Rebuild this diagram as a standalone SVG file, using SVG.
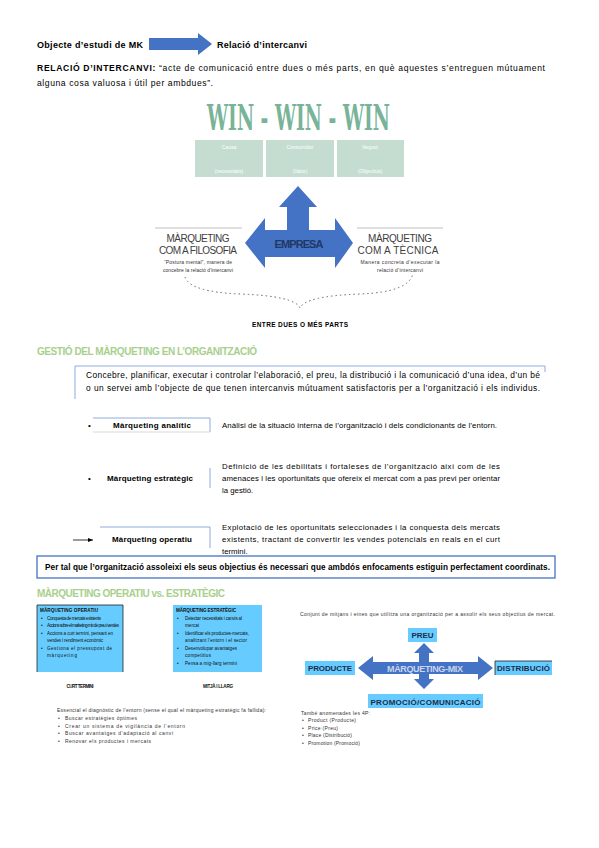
<svg xmlns="http://www.w3.org/2000/svg" width="599" height="848" viewBox="0 0 599 848">
<style>
  .t{font-family:"Liberation Sans",Arial,sans-serif;fill:#000}
  .b{font-weight:bold}
  .h{font-family:"Liberation Sans",Arial,sans-serif;font-weight:bold;fill:#a8d08d;font-size:10px}
  .blue{fill:#4472c4}
  .win{font-family:"DejaVu Serif",serif;font-weight:bold;fill:#79b398;font-size:36px}
  .wbox{fill:#c5ddd1}
  .wt{font-family:"Liberation Sans",Arial,sans-serif;fill:#fff;font-size:5px}
  .mk{font-family:"Liberation Sans",Arial,sans-serif;fill:#404040;font-size:10px}
  .sm{font-family:"Liberation Sans",Arial,sans-serif;fill:#333;font-size:5px}
  .cy{fill:#66ccff}
  .mx{font-family:"Liberation Sans",Arial,sans-serif;font-weight:bold;fill:#1f2d4d;font-size:8px}
  .bx{font-family:"Liberation Sans",Arial,sans-serif;fill:#111;font-size:4.6px}
  .ln{stroke:#8eaadb;stroke-width:1;fill:none}
</style>
<defs>
  <marker id="ah" markerWidth="6" markerHeight="6" refX="5" refY="3" orient="auto" markerUnits="userSpaceOnUse">
    <path d="M0,1 L5,3 L0,5 z" fill="#000"/>
  </marker>
</defs>
<rect width="599" height="848" fill="#fff"/>

<g id="header">
  <text class="t b" x="37" y="48" font-size="9" textLength="106">Objecte d’estudi de MK</text>
  <text class="t b" x="217" y="48" font-size="9" textLength="90">Relació d’intercanvi</text>
  <text class="t" x="37" y="71" font-size="8.6" textLength="508"><tspan class="b">RELACIÓ D’INTERCANVI:</tspan> “acte de comunicació entre dues o més parts, en què aquestes s’entreguen mútuament</text>
  <text class="t" x="37" y="86" font-size="8.6" textLength="176">alguna cosa valuosa i útil per ambdues”.</text>
</g>

<g id="connectors">
  <polygon id="arrow-top" class="blue" points="149,38 198,38 198,33 212,44 198,55 198,50 149,50"/>
  <line x1="73" y1="540" x2="93" y2="540" stroke="#000" stroke-width="0.8" marker-end="url(#ah)"/>
  <path id="brace" d="M185,277 Q190,292 240,294 Q295,296 300,308 Q305,296 360,294 Q410,292 413,273" fill="none" stroke="#666" stroke-width="1" stroke-dasharray="1.5 3"/>
</g>

<g id="win">
  <text class="win" x="207" y="130" textLength="183" lengthAdjust="spacingAndGlyphs">WIN - WIN - WIN</text>
</g>
<g id="box-causa">
  <rect class="wbox" x="195" y="140" width="68" height="37"/>
  <text class="wt" x="229" y="149" text-anchor="middle">Causa</text>
  <text class="wt" x="229" y="173" text-anchor="middle">(necessitats)</text>
</g>
<g id="box-consumidor">
  <rect class="wbox" x="266" y="140" width="68" height="37"/>
  <text class="wt" x="300" y="149" text-anchor="middle">Consumidor</text>
  <text class="wt" x="300" y="173" text-anchor="middle">(Valor)</text>
</g>
<g id="box-negoci">
  <rect class="wbox" x="337" y="140" width="67" height="37"/>
  <text class="wt" x="370" y="149" text-anchor="middle">Negoci</text>
  <text class="wt" x="370" y="173" text-anchor="middle">(Objectius)</text>
</g>

<g id="empresa">
  <polygon class="blue" points="245,243 265,218 265,230 287,230 287,207 279,207 298,186 317,207 309,207 309,230 335,230 335,218 353,243 335,268 335,257 265,257 265,268"/>
  <text x="299" y="248" text-anchor="middle" font-family="Liberation Sans, Arial, sans-serif" font-weight="bold" font-size="11" fill="#1f3864" textLength="49">EMPRESA</text>
</g>

<g id="filosofia">
  <line x1="155" y1="228" x2="242" y2="228" stroke="#bfbfbf" stroke-width="1"/>
  <text class="mk" x="198" y="242" text-anchor="middle" textLength="63">MÀRQUETING</text>
  <text class="mk" x="198" y="254" text-anchor="middle" textLength="78">COM A FILOSOFIA</text>
  <text class="sm" x="198" y="264" text-anchor="middle" textLength="68">“Postura mental”, manera de</text>
  <text class="sm" x="198" y="272" text-anchor="middle" textLength="70">concebre la relació d’intercanvi</text>
</g>
<g id="tecnica">
  <line x1="357" y1="228" x2="443" y2="228" stroke="#bfbfbf" stroke-width="1"/>
  <text class="mk" x="400" y="242" text-anchor="middle" textLength="64">MÀRQUETING</text>
  <text class="mk" x="398" y="254" text-anchor="middle" textLength="81">COM A TÈCNICA</text>
  <text class="sm" x="400" y="264" text-anchor="middle" textLength="79">Manera concreta d’executar la</text>
  <text class="sm" x="400" y="272" text-anchor="middle" textLength="46">relació d’intercanvi</text>
</g>
<g id="entre">
  <text x="300" y="327" text-anchor="middle" font-family="Liberation Sans, Arial, sans-serif" font-weight="bold" font-size="6.5" textLength="96">ENTRE DUES O MÉS PARTS</text>
</g>

<g id="gestio">
  <text class="h" x="37" y="355" textLength="220">GESTIÓ DEL MÀRQUETING EN L’ORGANITZACIÓ</text>
  <polyline class="ln" points="75,399 75,366 545,366 545,372"/>
  <text class="t" x="86" y="378" font-size="8.4" textLength="454">Concebre, planificar, executar i controlar l’elaboració, el preu, la distribució i la comunicació d’una idea, d’un bé</text>
  <text class="t" x="86" y="391" font-size="8.4" textLength="454">o un servei amb l’objecte de que tenen intercanvis mútuament satisfactoris per a l’organització i els individus.</text>
</g>

<g id="analitic">
  <text class="t" x="88" y="428" font-size="8">•</text>
  <polyline class="ln" points="93,418 210,418 210,432"/>
  <line x1="93" y1="432" x2="210" y2="432" stroke="#d9d9d9" stroke-width="1"/>
  <text class="t b" x="152" y="428" font-size="8" text-anchor="middle" textLength="78">Màrqueting analític</text>
  <text class="t" x="222" y="428" font-size="7.8" textLength="275">Anàlisi de la situació interna de l’organització i dels condicionants de l’entorn.</text>
</g>

<g id="estrategic">
  <text class="t" x="88" y="481" font-size="8">•</text>
  <line class="ln" x1="210" y1="468" x2="210" y2="488"/>
  <text class="t b" x="150" y="481" font-size="8" text-anchor="middle" textLength="86">Màrqueting estratègic</text>
  <text class="t" x="222" y="469" font-size="7.8" textLength="278">Definició de les debilitats i fortaleses de l’organització així com de les</text>
  <text class="t" x="222" y="481" font-size="7.8" textLength="278">amenaces i les oportunitats que ofereix el mercat com a pas previ per orientar</text>
  <text class="t" x="222" y="493" font-size="7.8">la gestió.</text>
</g>

<g id="operatiu">
  <polyline class="ln" points="100,527 210,527 210,548"/>
  <text class="t b" x="152" y="542" font-size="8" text-anchor="middle" textLength="80">Màrqueting operatiu</text>
  <text class="t" x="222" y="530" font-size="7.8" textLength="278">Explotació de les oportunitats seleccionades i la conquesta dels mercats</text>
  <text class="t" x="222" y="542" font-size="7.8" textLength="278">existents, tractant de convertir les vendes potencials en reals en el curt</text>
  <text class="t" x="222" y="554" font-size="7.8">termini.</text>
</g>

<g id="coordinats">
  <rect x="37" y="556" width="518" height="22" fill="#fff" stroke="#4472c4" stroke-width="1.3"/>
  <text class="t b" x="45" y="570" font-size="8.2" textLength="505">Per tal que l’organització assoleixi els seus objectius és necessari que ambdós enfocaments estiguin perfectament coordinats.</text>
</g>

<g id="vs">
  <text class="h" x="37" y="597" font-size="10.5" textLength="188">MÀRQUETING OPERATIU vs. ESTRATÈGIC</text>
</g>

<g id="box-operatiu">
  <rect class="cy" x="37" y="605" width="86" height="67"/>
  <polyline points="37,672 37,605 123,605 123,672" fill="none" stroke="#222" stroke-width="0.8"/>
  <text class="bx b" x="40" y="612" textLength="58">MÀRQUETING OPERATIU</text>
  <text class="bx" x="41" y="620">•</text><text class="bx" x="47" y="620" textLength="54">Conquesta de mercats existents</text>
  <text class="bx" x="41" y="627">•</text><text class="bx" x="47" y="627" textLength="72">Accions sobre el marketing-mix de preu i vendes</text>
  <text class="bx" x="41" y="635">•</text><text class="bx" x="47" y="635" textLength="66">Accions a curt termini, pensant en</text>
  <text class="bx" x="47" y="642" textLength="56">vendes i rendiment econòmic</text>
  <text class="bx" x="41" y="650">•</text><text class="bx" x="47" y="650" textLength="65">Gestiona el pressupost de</text>
  <text class="bx" x="47" y="657" textLength="30">màrqueting</text>
</g>
<g id="box-estrategic">
  <rect class="cy" x="173" y="605" width="89" height="67"/>
  <text class="bx b" x="176" y="612" textLength="60">MÀRQUETING ESTRATÈGIC</text>
  <text class="bx" x="177" y="620">•</text><text class="bx" x="185" y="620" textLength="57">Detectar necessitats i canvis al</text>
  <text class="bx" x="185" y="627">mercat</text>
  <text class="bx" x="177" y="635">•</text><text class="bx" x="185" y="635" textLength="64">Identificar els productes-mercats,</text>
  <text class="bx" x="185" y="642" textLength="62">analitzant l’entorn i el sector</text>
  <text class="bx" x="177" y="650">•</text><text class="bx" x="185" y="650" textLength="52">Desenvolupar avantatges</text>
  <text class="bx" x="185" y="657" textLength="26">competitius</text>
  <text class="bx" x="177" y="665">•</text><text class="bx" x="185" y="665" textLength="52">Pensa a mig-llarg termini</text>
</g>
<g id="captions">
  <text class="bx b" x="80" y="688" text-anchor="middle" textLength="27">CURT TERMINI</text>
  <text class="bx b" x="218" y="688" text-anchor="middle" textLength="30">MITJÀ I LLARG</text>
</g>

<g id="mix-desc">
  <text class="sm" x="300" y="616" fill="#111" textLength="255">Conjunt de mitjans i eines que utilitza una organització per a assolir els seus objectius de mercat.</text>
</g>
<g id="mix-arrow">
  <polygon class="blue" points="358,668 373,656 373,662 419,662 419,653 414,653 424,643 434,653 429,653 429,662 478,662 478,656 493,668 478,680 478,674 429,674 429,679 434,679 424,689 414,679 419,679 419,674 373,674 373,680"/>
  <text x="425" y="672" text-anchor="middle" font-family="Liberation Sans, Arial, sans-serif" font-weight="bold" font-size="9" fill="#c9d6ee" textLength="76">MÀRQUETING-MIX</text>
</g>
<g id="preu">
  <rect class="cy" x="408" y="628" width="29" height="14"/>
  <text class="mx" x="422.5" y="638" text-anchor="middle">PREU</text>
</g>
<g id="producte">
  <rect class="cy" x="305" y="661" width="50" height="14"/>
  <text class="mx" x="330" y="671" text-anchor="middle" textLength="44">PRODUCTE</text>
</g>
<g id="distribucio">
  <rect class="cy" x="495" y="661" width="57" height="14"/>
  <polyline points="495,675 495,661 552,661" fill="none" stroke="#222" stroke-width="0.8"/>
  <text class="mx" x="523.5" y="671" text-anchor="middle" textLength="53">DISTRIBUCIÓ</text>
</g>
<g id="promocio">
  <rect class="cy" x="368" y="694" width="115" height="14"/>
  <text class="mx" x="425.5" y="705" text-anchor="middle" font-size="9" textLength="110">PROMOCIÓ/COMUNICACIÓ</text>
</g>

<g id="llista-estrategic">
  <text class="sm" x="57" y="712" fill="#111" textLength="209">Essencial el diagnòstic de l’entorn (sense el qual el màrqueting estratègic fa fallida):</text>
  <text class="sm" x="58" y="720" fill="#111">•</text><text class="sm" x="65" y="720" fill="#111" textLength="72">Buscar estratègies òptimes</text>
  <text class="sm" x="58" y="728" fill="#111">•</text><text class="sm" x="65" y="728" fill="#111" textLength="120">Crear un sistema de vigilància de l’entorn</text>
  <text class="sm" x="58" y="735" fill="#111">•</text><text class="sm" x="65" y="735" fill="#111" textLength="108">Buscar avantatges d’adaptació al canvi</text>
  <text class="sm" x="58" y="743" fill="#111">•</text><text class="sm" x="65" y="743" fill="#111" textLength="86">Renovar els productes i mercats</text>
</g>
<g id="llista-4p">
  <text class="sm" x="301" y="715" fill="#111" textLength="69">També anomenades les 4P:</text>
  <text class="sm" x="302" y="722" fill="#111">•</text><text class="sm" x="308" y="722" fill="#111" textLength="48">Product (Producte)</text>
  <text class="sm" x="302" y="730" fill="#111">•</text><text class="sm" x="308" y="730" fill="#111" textLength="30">Price (Preu)</text>
  <text class="sm" x="302" y="737" fill="#111">•</text><text class="sm" x="308" y="737" fill="#111" textLength="44">Place (Distribució)</text>
  <text class="sm" x="302" y="745" fill="#111">•</text><text class="sm" x="308" y="745" fill="#111" textLength="52">Promotion (Promoció)</text>
</g>
</svg>
